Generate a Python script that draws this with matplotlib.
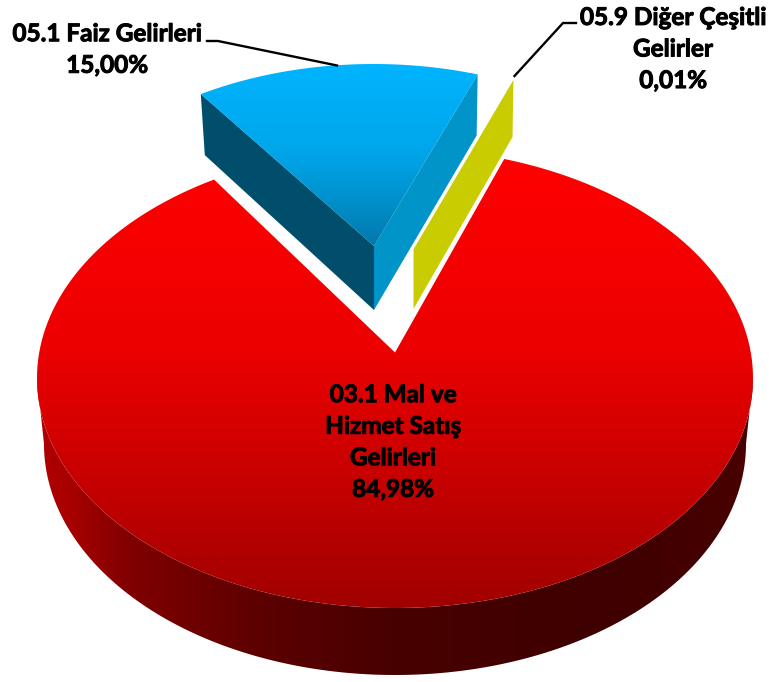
import numpy as np
import matplotlib
matplotlib.use('Agg')
import matplotlib.pyplot as plt
import matplotlib.patheffects as pe
from matplotlib.patches import Polygon
from matplotlib.colors import to_rgb

# Shares of each income item (percent)
names = ['03.1 Mal ve\nHizmet Satış\nGelirleri', '05.1 Faiz Gelirleri', '05.9 Diğer Çeşitli\nGelirler']
shares = [84.98, 15.00, 0.01]
share_labels = ['84,98%', '15,00%', '0,01%']

W, H = 769, 682
fig = plt.figure(figsize=(W / 100, H / 100), dpi=100)
ax = fig.add_axes([0, 0, 1, 1])
plt.rcParams['font.family'] = ['Lato', 'DejaVu Sans']


def rim(cx, cy, rx, ry, t0, t1, n=200):
    # points of an ellipse, angle counted as on screen (y goes down)
    t = np.radians(np.linspace(t0, t1, n))
    return np.column_stack((cx + rx * np.cos(t), cy - ry * np.sin(t)))


def vfill(poly, ys, colors, z):
    # vertical gradient clipped to a polygon
    grid = np.arange(0, H + 1)
    rgb = np.array([to_rgb(c) for c in colors])
    img = np.column_stack([np.interp(grid, ys, rgb[:, i]) for i in range(3)])[:, None, :]
    im = ax.imshow(img, extent=[0, W, H + 0.5, -0.5], aspect='auto', zorder=z, interpolation='bilinear')
    im.set_clip_path(Polygon(poly, closed=True, transform=ax.transData))


def hfill(poly, xs, colors, z):
    grid = np.arange(0, W + 1)
    rgb = np.array([to_rgb(c) for c in colors])
    img = np.column_stack([np.interp(grid, xs, rgb[:, i]) for i in range(3)])[None, :, :]
    im = ax.imshow(img, extent=[-0.5, W + 0.5, H, 0], aspect='auto', zorder=z, interpolation='bilinear')
    im.set_clip_path(Polygon(poly, closed=True, transform=ax.transData))


# angles on the tilted pie are squeezed at the back
squeeze = 0.89
red_gap = (100 - shares[0]) * 3.6 * squeeze
blue_sweep = shares[1] * 3.6 * squeeze
yellow_sweep = shares[2] * 3.6 * squeeze
back_mid = 96.3

# big red slice
red_c = (395, 378)
red_rx, red_ry = 358, 230
red_apex = (395, 352.5)
t_right = back_mid - red_gap / 2
t_left = t_right + red_gap
wall = np.vstack((rim(395, 444, 351, 231, 180, 360), rim(red_c[0], red_c[1], red_rx, red_ry, 360, 180)))
hfill(wall, [40, 70, 130, 270, 390, 600, 720, 750],
      ['#b00000', '#a80000', '#800000', '#5a0000', '#480000', '#3e0000', '#460000', '#4a0000'], 1)
red_top = np.vstack(([red_apex], rim(red_c[0], red_c[1], red_rx, red_ry, t_left, t_right + 360)))
vfill(red_top, [160, 350, 610], ['#ff0000', '#ec0000', '#a00000'], 2)

# blue slice, pulled out towards the back
blue_c = (373.5, 284)
blue_rx, blue_ry = 342, 220
blue_apex = (374, 246)
blue_t0 = back_mid - blue_sweep / 2
blue_t1 = back_mid + blue_sweep / 2
blue_arc = rim(blue_c[0], blue_c[1], blue_rx, blue_ry, blue_t1, blue_t0)
depth = 64
left_face = [blue_arc[0], blue_apex, (blue_apex[0], blue_apex[1] + depth), blue_arc[0] + (4, 61)]
right_face = [blue_arc[-1], blue_apex, (blue_apex[0], blue_apex[1] + depth), blue_arc[-1] + (-1, 61)]
ax.add_patch(Polygon(left_face, closed=True, fc='#004e6b', ec='none', zorder=3))
ax.add_patch(Polygon(right_face, closed=True, fc='#0094c8', ec='none', zorder=3))
vfill(np.vstack(([blue_apex], blue_arc)), [64, 155, 200, 246], ['#00b4ff', '#00a5e8', '#0090cc', '#0478ab'], 4)

# yellow sliver, only its cut face shows
yel_c = (410, 286.3)
yel_apex = (412.7, 249)
yel_arc = rim(yel_c[0], yel_c[1], blue_rx, blue_ry, blue_t0 - yellow_sweep, blue_t0, 2)
yel_face = [yel_apex, yel_arc[0], yel_arc[0] + (-1, 60.5), (yel_apex[0], yel_apex[1] + 63)]
ax.add_patch(Polygon(yel_face, closed=True, fc='#c9cc00', ec='white', lw=1.2, zorder=5))

# leader lines
ax.plot([207, 218, 337], [41, 41, 65.5], color='black', lw=1.7, zorder=6, solid_joinstyle='miter')
ax.plot([514.5, 563, 576], [76, 23, 23], color='black', lw=1.7, zorder=6, solid_joinstyle='miter')

# labels
fs = 17.5
bold = [pe.withStroke(linewidth=0.7, foreground='black')]
ax.text(393, 442, names[0] + '\n' + share_labels[0], ha='center', va='center', ma='center',
        fontsize=fs, fontweight='bold', color='black', linespacing=1.45, zorder=7, path_effects=bold)
ax.text(107, 49.5, names[1] + '\n' + share_labels[1], ha='center', va='center', ma='center',
        fontsize=fs, fontweight='bold', color='black', linespacing=1.45, zorder=7, path_effects=bold)
ax.text(673, 49, names[2] + '\n' + share_labels[2], ha='center', va='center', ma='center',
        fontsize=fs, fontweight='bold', color='black', linespacing=1.45, zorder=7, path_effects=bold)

ax.set_xlim(0, W)
ax.set_ylim(H, 0)
ax.axis('off')
fig.savefig('out.png', dpi=100, facecolor='white')
